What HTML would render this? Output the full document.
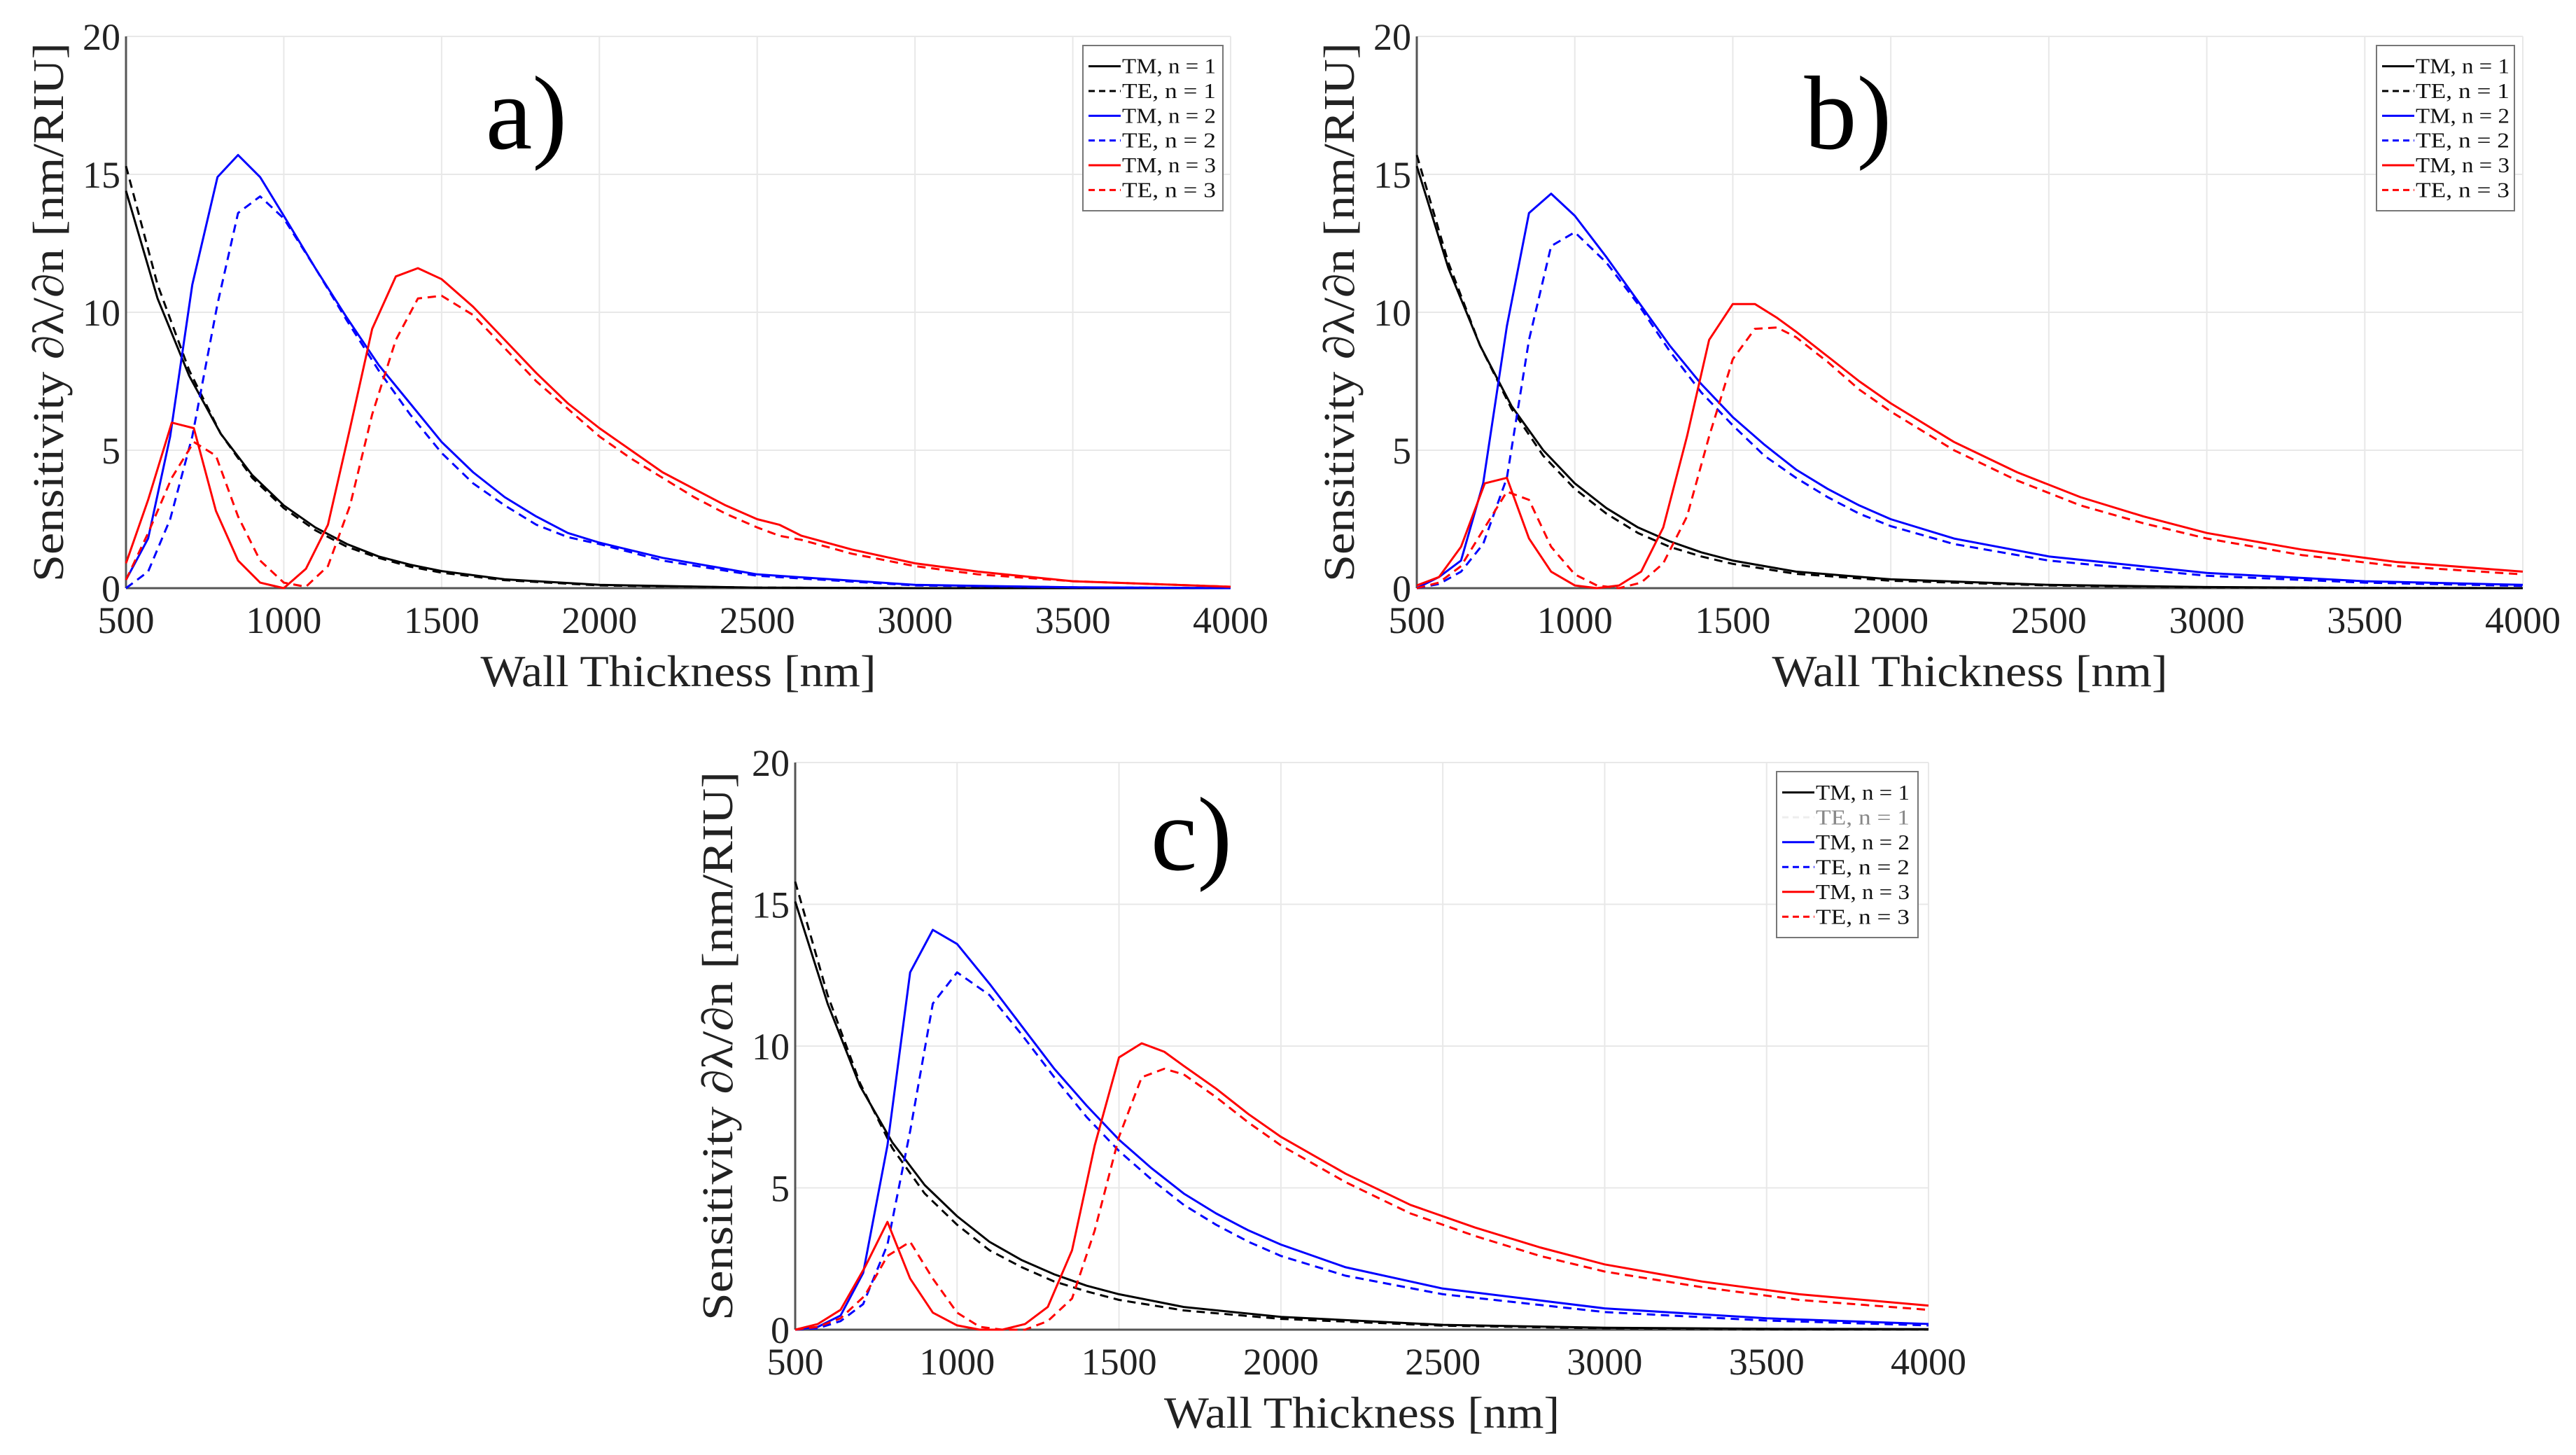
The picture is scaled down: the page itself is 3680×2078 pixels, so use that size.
<!DOCTYPE html>
<html><head><meta charset="utf-8"><style>
html,body{margin:0;padding:0;background:#fff;}
svg{display:block;}
text{font-family:"Liberation Serif",serif;}
</style></head><body>
<svg id="fig" width="3680" height="2078" viewBox="0 0 3680 2078" xmlns="http://www.w3.org/2000/svg"></svg>
<script>
// ---- data (x in nm, y in nm/RIU) ----
const xTicks = [500,1000,1500,2000,2500,3000,3500,4000];
const yTicks = [0,5,10,15,20];
const legendLabels = ["TM, n = 1","TE, n = 1","TM, n = 2","TE, n = 2","TM, n = 3","TE, n = 3"];

const a_x1 = [500,600,700,800,900,1000,1100,1200,1300,1400,1500,1700,2000,2500,3000,4000];
const a_TM1 = [14.4,10.5,7.7,5.6,4.1,3.0,2.2,1.6,1.15,0.85,0.62,0.32,0.12,0.02,0,0];
const a_TE1 = [15.3,11.0,7.9,5.6,4.0,2.9,2.1,1.5,1.1,0.78,0.56,0.29,0.1,0.02,0,0];
const a_x2 = [500,570,640,710,790,855,925,1000,1100,1200,1300,1400,1500,1600,1700,1800,1900,2000,2200,2500,3000,3500,4000];
const a_TM2 = [0.3,1.8,5.5,11,14.9,15.7,14.9,13.5,11.6,9.8,8.1,6.7,5.3,4.2,3.3,2.6,2.0,1.65,1.1,0.5,0.12,0.03,0];
const a_TE2 = [0,0.6,2.5,5.5,10.3,13.6,14.2,13.4,11.6,9.7,7.9,6.3,4.9,3.8,3.0,2.3,1.85,1.6,1.0,0.45,0.1,0.03,0];
const a_x3 = [500,570,645,715,785,855,925,1000,1070,1140,1210,1280,1355,1425,1500,1600,1700,1800,1900,2000,2100,2200,2300,2400,2500,2570,2640,2800,3000,3200,3500,4000];
const a_TM3 = [0.9,3.2,6.0,5.8,2.8,1.0,0.2,0.0,0.7,2.3,5.8,9.4,11.3,11.6,11.2,10.2,9.0,7.8,6.7,5.8,5.0,4.2,3.6,3.0,2.5,2.3,1.9,1.4,0.9,0.6,0.25,0.05];
const a_TE3 = [0.3,2.0,4.0,5.3,4.8,2.6,1.0,0.2,0.05,0.8,3.0,6.3,9.0,10.5,10.6,9.9,8.7,7.5,6.5,5.5,4.7,4.0,3.3,2.7,2.2,1.9,1.75,1.25,0.8,0.5,0.25,0.05];

const b_x1 = [500,600,700,800,900,1000,1100,1200,1300,1400,1500,1700,2000,2500,3000,3500,4000];
const b_TM1 = [15.3,11.6,8.8,6.6,5.0,3.8,2.9,2.2,1.7,1.3,1.0,0.6,0.32,0.12,0.04,0.01,0];
const b_TE1 = [15.7,11.8,8.8,6.5,4.8,3.6,2.7,2.0,1.5,1.15,0.88,0.52,0.27,0.1,0.03,0.01,0];
const b_x2 = [500,570,640,710,785,855,925,1000,1100,1200,1300,1400,1500,1600,1700,1800,1900,2000,2200,2500,3000,3500,4000];
const b_TM2 = [0,0.4,1.0,3.8,9.5,13.6,14.3,13.5,12.0,10.4,8.8,7.4,6.2,5.2,4.3,3.6,3.0,2.5,1.8,1.15,0.55,0.25,0.12];
const b_TE2 = [0,0.15,0.6,1.6,4.0,9.0,12.4,12.9,11.8,10.3,8.6,7.1,5.9,4.8,4.0,3.3,2.7,2.25,1.6,1.0,0.45,0.2,0.08];
const b_x3 = [500,570,640,715,785,855,925,1000,1070,1140,1210,1280,1355,1425,1500,1570,1640,1700,1800,1900,2000,2200,2400,2600,2800,3000,3300,3600,4000];
const b_TM3 = [0.1,0.4,1.5,3.8,4.0,1.8,0.6,0.1,0,0.1,0.6,2.2,5.5,9.0,10.3,10.3,9.8,9.3,8.4,7.5,6.7,5.3,4.2,3.3,2.6,2.0,1.4,0.95,0.6];
const b_TE3 = [0,0.2,0.8,2.2,3.5,3.2,1.5,0.5,0.1,0,0.2,0.9,2.6,5.5,8.3,9.4,9.45,9.1,8.2,7.2,6.4,5.0,3.9,3.0,2.35,1.8,1.2,0.8,0.5];

const c_x1 = [500,600,700,800,900,1000,1100,1200,1300,1400,1500,1700,2000,2500,3000,3500,4000];
const c_TM1 = [15.1,11.5,8.6,6.6,5.1,4.0,3.1,2.45,1.95,1.55,1.25,0.8,0.45,0.17,0.07,0.03,0.02];
const c_TE1 = [15.8,11.8,8.7,6.4,4.8,3.7,2.8,2.2,1.7,1.35,1.05,0.68,0.38,0.14,0.05,0.02,0.01];
const c_x2 = [500,570,640,710,785,855,925,1000,1100,1200,1300,1400,1500,1600,1700,1800,1900,2000,2200,2500,3000,3500,4000];
const c_TM2 = [0,0.1,0.5,2.0,6.5,12.6,14.1,13.6,12.2,10.7,9.2,7.9,6.7,5.7,4.8,4.1,3.5,3.0,2.2,1.45,0.75,0.4,0.2];
const c_TE2 = [0,0.05,0.3,0.9,3.0,7.0,11.5,12.6,11.8,10.4,8.9,7.5,6.3,5.3,4.4,3.7,3.1,2.6,1.9,1.25,0.62,0.32,0.15];
const c_x3 = [500,570,640,715,785,855,925,1000,1070,1140,1210,1280,1355,1425,1500,1570,1640,1700,1800,1900,2000,2200,2400,2600,2800,3000,3300,3600,4000];
const c_TM3 = [0,0.2,0.7,2.2,3.8,1.8,0.6,0.15,0,0,0.2,0.8,2.8,6.5,9.6,10.1,9.8,9.3,8.5,7.6,6.8,5.5,4.4,3.6,2.9,2.3,1.7,1.25,0.85];
const c_TE3 = [0,0.1,0.4,1.2,2.6,3.1,1.8,0.6,0.1,0,0,0.3,1.1,3.5,6.8,8.9,9.2,9.0,8.2,7.3,6.5,5.2,4.1,3.3,2.6,2.05,1.5,1.05,0.7];

const NS = "http://www.w3.org/2000/svg";
const svg = document.getElementById('fig');
function mk(tag, attrs, parent){
  const e = document.createElementNS(NS, tag);
  for (const k in attrs) e.setAttribute(k, attrs[k]);
  (parent||svg).appendChild(e);
  return e;
}

const colors = ["#000","#000","#0000ff","#0000ff","#ff0000","#ff0000"];
const dashed = [false,true,false,true,false,true];

function panel(p){
  const g = mk('g', {});
  
  
  const xs = v => p.l + (v - 500) / 3500 * (p.r - p.l);
  const ys = v => p.b - v / 20 * (p.b - p.t);
  // grid
  xTicks.forEach(t => {
    const l = mk('line', {x1:xs(t), x2:xs(t), y1:p.t, y2:p.b, stroke:'#e8e8e8', 'stroke-width':2}, g);
    
    
  });
  yTicks.forEach(t => {
    const l = mk('line', {x1:p.l, x2:p.r, y1:ys(t), y2:ys(t), stroke:'#e8e8e8', 'stroke-width':2}, g);
    
    
  });
  // axes
  const ax = mk('line', {x1:p.l, x2:p.r, y1:p.b, y2:p.b, stroke:'#555', 'stroke-width':3}, g);
  
  
  const ay = mk('line', {x1:p.l, x2:p.l, y1:p.t, y2:p.b, stroke:'#555', 'stroke-width':3}, g);
  
  
  // tick labels
  xTicks.forEach(t => {
    const tx = mk('text', {x:xs(t), y:p.b+64, 'font-size':54, 'text-anchor':'middle', fill:'#222'}, g);
    tx.textContent = t;
    
    
  });
  yTicks.forEach(t => {
    const tx = mk('text', {x:p.l-8, y:ys(t)+19, 'font-size':54, 'text-anchor':'end', fill:'#222'}, g);
    tx.textContent = t;
    
    
  });
  // series
  p.series.forEach((s, i) => {
    const d = s.x.map((v, k) => (k ? 'L' : 'M') + xs(v).toFixed(1) + ',' + ys(s.y[k]).toFixed(1)).join(' ');
    const attrs = {d:d, fill:'none', stroke:colors[i], 'stroke-width':3, 'stroke-linejoin':'round'};
    if (dashed[i]) attrs['stroke-dasharray'] = '12,8';
    const path = mk('path', attrs, g);
    
    
  });
  // axis titles
  const xl = mk('text', {x:(p.l+p.r)/2, y:p.b+140, 'font-size':64, 'text-anchor':'middle', fill:'#222', textLength:565, lengthAdjust:'spacingAndGlyphs'}, g);
  xl.textContent = 'Wall Thickness [nm]';
  
  
  const cy = (p.t + p.b) / 2 + p.ylOff;
  const yl = mk('text', {x:0, y:0, 'font-size':62, 'text-anchor':'middle', fill:'#222', textLength:p.ylLen, lengthAdjust:'spacingAndGlyphs', transform:'translate(' + (p.l-90) + ',' + cy + ') rotate(-90)'}, g);
  yl.textContent = 'Sensitivity ∂λ/∂n [nm/RIU]';
  
  
  // panel label
  const pl = mk('text', {x:p.labX, y:p.labY, 'font-size':150, 'text-anchor':'middle', fill:'#000'}, g);
  pl.textContent = p.id + ')';
  
  
  // legend
  const lg = mk('g', {}, g);
  
  
  mk('rect', {x:p.lx, y:p.ly, width:p.lw, height:p.lh, fill:'#fff', stroke:'#777', 'stroke-width':2}, lg);
  const step = (p.lh - 24) / 6;
  legendLabels.forEach((lab, i) => {
    const yy = p.ly + 12 + step * (i + 0.5);
    const la = {x1:p.lx+8, x2:p.lx+54, y1:yy, y2:yy, stroke:colors[i], 'stroke-width':3};
    if (dashed[i]) la['stroke-dasharray'] = '9,6';
    if (p.hideTE1 && i === 1) la.stroke = '#eee';
    mk('line', la, lg);
    const t = mk('text', {x:p.lx+56, y:yy+10, 'font-size':31, fill:(p.hideTE1 && i===1)?'#888':'#111', textLength:134, lengthAdjust:'spacingAndGlyphs'}, lg);
    t.textContent = lab;
    
    
  });
}

panel({id:'a', l:180, r:1758, t:52, b:840, ylOff:0, ylLen:770, labX:752, labY:212,
  lx:1547, ly:65, lw:200, lh:236,
  series:[{x:a_x1,y:a_TM1},{x:a_x1,y:a_TE1},{x:a_x2,y:a_TM2},{x:a_x2,y:a_TE2},{x:a_x3,y:a_TM3},{x:a_x3,y:a_TE3}]});
panel({id:'b', l:2024, r:3604, t:52, b:840, ylOff:0, ylLen:770, labX:2640, labY:212,
  lx:3395, ly:65, lw:197, lh:236,
  series:[{x:b_x1,y:b_TM1},{x:b_x1,y:b_TE1},{x:b_x2,y:b_TM2},{x:b_x2,y:b_TE2},{x:b_x3,y:b_TM3},{x:b_x3,y:b_TE3}]});
panel({id:'c', l:1136, r:2755, t:1089, b:1899, ylOff:0, ylLen:784, labX:1702, labY:1242,
  lx:2538, ly:1102, lw:202, lh:237, hideTE1:true,
  series:[{x:c_x1,y:c_TM1},{x:c_x1,y:c_TE1},{x:c_x2,y:c_TM2},{x:c_x2,y:c_TE2},{x:c_x3,y:c_TM3},{x:c_x3,y:c_TE3}]});
</script>
</body></html>
